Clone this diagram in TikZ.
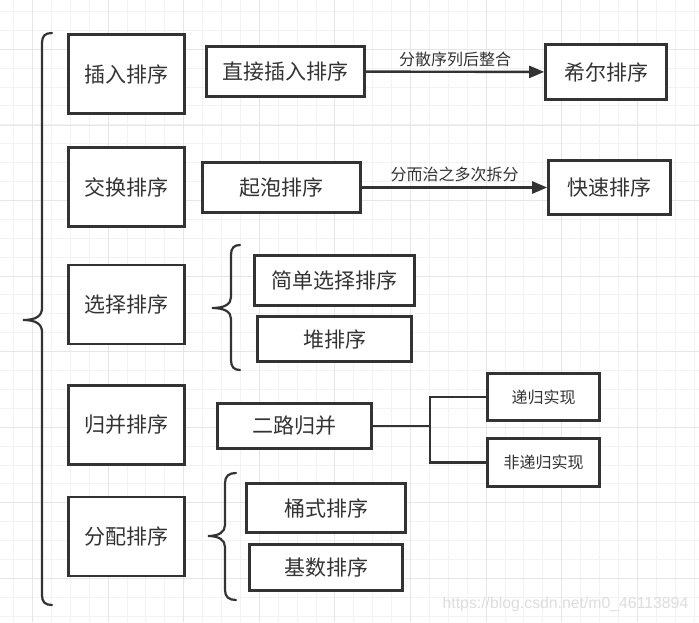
\documentclass[tikz,border=0pt]{standalone}
\usepackage{fontspec}
\setmainfont{Noto Sans CJK SC}
\newfontfamily\markfont{Liberation Sans}
\usetikzlibrary{arrows.meta,positioning}
\definecolor{linegray}{HTML}{333333}
\definecolor{textgray}{HTML}{333333}
\definecolor{gridminor}{HTML}{F2F2F2}
\definecolor{gridmajor}{HTML}{E6E6E6}
\definecolor{markgray}{HTML}{DDDDDD}

\begin{document}
\begin{tikzpicture}[
  x=1pt, y=-1pt,
  >={Triangle[length=15pt,width=12pt]},
  font=\fontsize{21}{25}\selectfont,
  box/.style={rectangle, draw=linegray, line width=2.6pt, fill=white, text=textgray, inner sep=0pt},
  catbox/.style={box, minimum width=116pt, minimum height=79pt},
  arrow/.style={->, draw=linegray, line width=2.4pt},
  wire/.style={draw=linegray, line width=2.4pt},
  brace/.style={draw=linegray, line width=2.2pt, line cap=round},
  lbl/.style={font=\fontsize{16}{19}\selectfont, text=textgray, inner sep=1pt},
  small/.style={font=\fontsize{16}{19}\selectfont}
]
\useasboundingbox (0,0) rectangle (699,622);
\fill[white] (0,0) rectangle (699,622);

% background grid
\foreach \i in {0,...,36}
  \draw[gridminor, line width=1pt] ({13.6+18.9*\i},0) -- ({13.6+18.9*\i},622);
\foreach \j in {0,...,32}
  \draw[gridminor, line width=1pt] (0,{11.4+18.9*\j}) -- (699,{11.4+18.9*\j});
\foreach \k in {0,...,8}
  \draw[gridmajor, line width=1pt] ({32.5+75.6*\k},0) -- ({32.5+75.6*\k},622);
\foreach \k in {0,...,7}
  \draw[gridmajor, line width=1pt] (0,{49.5+75.5*\k}) -- (699,{49.5+75.5*\k});

% categories
\node[catbox] (insert) at (126.5,74) {插入排序};
\node[catbox] (exchange) at (126.5,187) {交换排序};
\node[catbox] (select) at (126.5,304.5) {选择排序};
\node[catbox] (merge) at (126.5,425) {归并排序};
\node[catbox] (distrib) at (126.5,536.5) {分配排序};

% insertion / exchange
\node[box, minimum width=158pt, minimum height=50pt] (straight) at (285.5,71.5) {直接插入排序};
\node[box, minimum width=121pt, minimum height=55pt] (shell) at (606,72) {希尔排序};
\node[box, minimum width=158pt, minimum height=50pt] (bubble) at (281.5,187.5) {起泡排序};
\node[box, minimum width=122pt, minimum height=54pt] (quick) at (609.5,187.5) {快速排序};

% selection
\node[box, minimum width=160pt, minimum height=50pt] (simplesel) at (334.5,280.5) {简单选择排序};
\node[box, minimum width=154pt, minimum height=45pt] (heap) at (334.5,339) {堆排序};

% merge
\node[box, minimum width=154pt, minimum height=45pt] (twoway) at (294.5,426) {二路归并};
\node[box, small, minimum width=112pt, minimum height=47pt] (recur) at (543.5,397) {递归实现};
\node[box, small, minimum width=112pt, minimum height=48pt] (nonrecur) at (543.5,462.5) {非递归实现};

% distribution
\node[box, minimum width=159pt, minimum height=49pt] (bucket) at (326,508) {桶式排序};
\node[box, minimum width=153pt, minimum height=46pt] (radix) at (326,567.5) {基数排序};

% watermark
\node[font=\markfont\fontsize{15.8}{18}\selectfont, text=markgray, inner sep=0pt] (mark) at (565.5,604) {https://blog.csdn.net/m0\_46113894};

% edges
\draw[arrow] (straight) -- node[lbl, above=3pt] {分散序列后整合} (shell);
\draw[arrow] (bubble) -- node[lbl, above=3pt] {分而治之多次拆分} (quick);
\coordinate (fork) at (430,426);
\draw[wire] (twoway) -- (fork);
\draw[wire] (fork) |- (recur);
\draw[wire] (fork) |- (nonrecur);

% braces
\draw[brace] (52,33) .. controls (45,33) and (42,36) .. (42,43) -- (42,308) .. controls (42,316) and (36,320) .. (23,320) .. controls (36,320) and (42,324) .. (42,332) -- (42,595) .. controls (42,602) and (45,605) .. (52,605);
\draw[brace] (240,245) .. controls (234,245) and (231,248) .. (231,255) -- (231,297) .. controls (231,304) and (225,308) .. (212,308) .. controls (225,308) and (231,312) .. (231,319) -- (231,360) .. controls (231,367) and (234,370) .. (240,370);
\draw[brace] (236,473) .. controls (229,473) and (225,476) .. (225,483) -- (225,525) .. controls (225,532) and (219,536) .. (208,536) .. controls (219,536) and (225,540) .. (225,547) -- (225,590) .. controls (225,597) and (229,600) .. (236,600);

\end{tikzpicture}
\end{document}
